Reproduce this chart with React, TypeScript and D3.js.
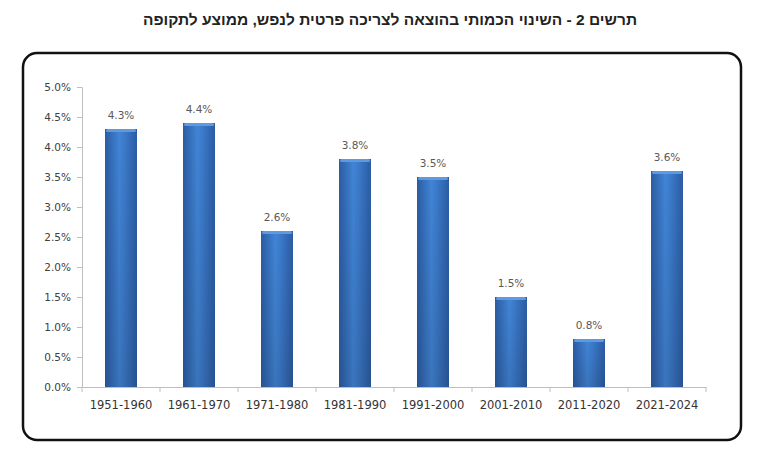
import React, { useRef, useEffect } from 'react';
import * as d3 from 'd3';

const title = 'תרשים 2 - השינוי הכמותי בהוצאה לצריכה פרטית לנפש, ממוצע לתקופה';
const periods = ['1951-1960', '1961-1970', '1971-1980', '1981-1990', '1991-2000', '2001-2010', '2011-2020', '2021-2024'];
const growth = [4.3, 4.4, 2.6, 3.8, 3.5, 1.5, 0.8, 3.6];
const yTicks = [0, 0.5, 1, 1.5, 2, 2.5, 3, 3.5, 4, 4.5, 5];

const width = 768;
const height = 454;

export default function App() {
  const svgRef = useRef<SVGSVGElement>(null);

  useEffect(() => {
    if (!svgRef.current) return;
    const svg = d3.select(svgRef.current);
    svg.selectAll('*').remove();

    const margin = { top: 87, left: 82, right: 62, bottom: 67 };
    const innerWidth = width - margin.left - margin.right;
    const innerHeight = height - margin.top - margin.bottom;

    const defs = svg.append('defs');
    const grad = defs.append('linearGradient').attr('id', 'barGrad')
      .attr('x1', '0%').attr('x2', '100%').attr('y1', '0%').attr('y2', '0%');
    grad.append('stop').attr('offset', '0%').attr('stop-color', '#2b5ca3');
    grad.append('stop').attr('offset', '45%').attr('stop-color', '#4184d6');
    grad.append('stop').attr('offset', '60%').attr('stop-color', '#3c7bcb');
    grad.append('stop').attr('offset', '100%').attr('stop-color', '#2b5ca3');
    const shade = defs.append('linearGradient').attr('id', 'barShade')
      .attr('x1', '0%').attr('x2', '0%').attr('y1', '0%').attr('y2', '100%');
    shade.append('stop').attr('offset', '0%').attr('stop-color', '#000').attr('stop-opacity', 0);
    shade.append('stop').attr('offset', '100%').attr('stop-color', '#000').attr('stop-opacity', 0.12);

    svg.append('rect').attr('width', width).attr('height', height).attr('fill', '#fff');

    svg.append('text')
      .attr('x', width / 2 + 6)
      .attr('y', 25)
      .attr('text-anchor', 'middle')
      .style('direction', 'rtl')
      .style('unicode-bidi', 'embed')
      .style('font-family', 'Liberation Sans, Arial, sans-serif')
      .style('font-weight', 'bold')
      .style('font-size', '15.5px')
      .attr('fill', '#222')
      .text(title);

    // frame
    svg.append('rect')
      .attr('x', 23).attr('y', 53)
      .attr('width', 718).attr('height', 387)
      .attr('rx', 14)
      .attr('fill', 'none')
      .attr('stroke', '#111')
      .attr('stroke-width', 2.5);

    const g = svg.append('g').attr('transform', `translate(${margin.left},${margin.top})`);

    const x = d3.scaleBand().domain(periods).range([0, innerWidth]).paddingInner(0.59).paddingOuter(0.295);
    const y = d3.scaleLinear().domain([0, 5]).range([innerHeight, 0]);

    const yAxis = g.append('g')
      .call(d3.axisLeft(y).tickValues(yTicks).tickSize(5).tickPadding(6).tickFormat(d => `${(+d).toFixed(1)}%`));
    yAxis.select('.domain').attr('stroke', '#bfbfbf');
    yAxis.selectAll('line').attr('stroke', '#bfbfbf');
    yAxis.selectAll('text')
      .style('font-family', 'DejaVu Sans, sans-serif')
      .style('font-size', '10.5px')
      .attr('fill', '#404040');

    const xAxis = g.append('g')
      .attr('transform', `translate(0,${innerHeight})`)
      .call(d3.axisBottom(x).tickSize(0).tickPadding(14));
    xAxis.select('.domain').attr('stroke', '#bfbfbf');
    xAxis.selectAll('text')
      .style('font-family', 'DejaVu Sans, sans-serif')
      .style('font-size', '11.5px')
      .attr('fill', '#333');
    const step = x.step();
    xAxis.selectAll('line.sep')
      .data(d3.range(periods.length + 1))
      .enter()
      .append('line')
      .attr('class', 'sep')
      .attr('x1', i => i * step).attr('x2', i => i * step)
      .attr('y1', 0).attr('y2', 5)
      .attr('stroke', '#bfbfbf');

    const bars = g.selectAll('g.bar')
      .data(periods)
      .enter()
      .append('g')
      .attr('class', 'bar');

    bars.append('rect')
      .attr('x', d => x(d)!)
      .attr('y', (d, i) => y(growth[i]))
      .attr('width', x.bandwidth())
      .attr('height', (d, i) => innerHeight - y(growth[i]))
      .attr('fill', 'url(#barGrad)');
    bars.append('rect')
      .attr('x', d => x(d)!)
      .attr('y', (d, i) => y(growth[i]))
      .attr('width', x.bandwidth())
      .attr('height', (d, i) => innerHeight - y(growth[i]))
      .attr('fill', 'url(#barShade)');
    // top bevel
    bars.append('rect')
      .attr('x', d => x(d)! + 1)
      .attr('y', (d, i) => y(growth[i]))
      .attr('width', x.bandwidth() - 2)
      .attr('height', 3)
      .attr('rx', 1.5)
      .attr('fill', '#5f9ae0');

    bars.append('text')
      .attr('x', d => x(d)! + x.bandwidth() / 2)
      .attr('y', (d, i) => y(growth[i]) - 10)
      .attr('text-anchor', 'middle')
      .style('font-family', 'DejaVu Sans, sans-serif')
      .style('font-size', '10.5px')
      .attr('fill', '#595959')
      .text((d, i) => `${growth[i].toFixed(1)}%`);
  }, []);

  return <svg ref={svgRef} width={width} height={height} style={{ display: 'block', margin: '-8px' }} />;
}
